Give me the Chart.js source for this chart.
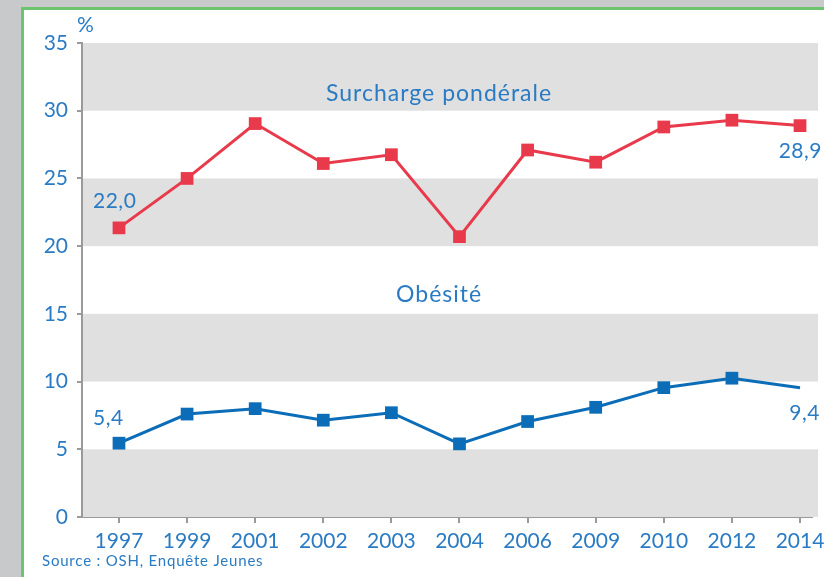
<!DOCTYPE html>
<html>
<head>
<meta charset="utf-8">
<script src="https://cdn.jsdelivr.net/npm/chart.js@4"></script>
<style>
    body { margin: 0; background: #c8c9cb; width: 824px; height: 577px; overflow: hidden; position: relative; }
    #cadre { position: absolute; left: 21px; top: 7px; width: 900px; height: 700px; background: #fff; border: 3px solid #6cc46c; }
    #graphique { position: absolute; left: 0; top: 0; }
</style>
</head>
<body>
<div id="cadre"></div>
<canvas id="graphique" width="824" height="577"></canvas>
<script>
const annees = ['1997', '1999', '2001', '2002', '2003', '2004', '2006', '2009', '2010', '2012', '2014'];
const surcharge = [21.35, 25.0, 29.05, 26.1, 26.75, 20.7, 27.1, 26.2, 28.8, 29.3, 28.9];
const obesite = [5.45, 7.6, 8.0, 7.15, 7.7, 5.4, 7.05, 8.1, 9.55, 10.25, 9.55];
const etiquettesSurcharge = ['22,0', '28,9'];
const etiquettesObesite = ['5,4', '9,4'];
const ticksY = [0, 5, 10, 15, 20, 25, 30, 35];

const bleuTexte = '#2a7bc3';
const police = 'Lato, "DejaVu Sans", sans-serif';

// bandes grises et textes
const decor = {
    id: 'decor',
    beforeDatasetsDraw(chart) {
        const ctx = chart.ctx;
        const y = chart.scales.y;
        const aire = chart.chartArea;
        ctx.save();
        ctx.fillStyle = '#e0e0e0';
        for (let v = 0; v < 35; v += 10) {
            const haut = y.getPixelForValue(v + 5);
            const bas = y.getPixelForValue(v);
            ctx.fillRect(aire.left + 1, haut, aire.right + 5 - aire.left, bas - haut);
        }
        ctx.restore();
    },
    afterDatasetsDraw(chart) {
        const ctx = chart.ctx;
        const x = chart.scales.x;
        const y = chart.scales.y;
        ctx.save();
        ctx.fillStyle = bleuTexte;
        ctx.textBaseline = 'middle';
        ctx.textAlign = 'center';
        ctx.font = '23px ' + police;
        ctx.letterSpacing = '1px';
        ctx.fillText('Surcharge pondérale', x.getPixelForValue(4.7), y.getPixelForValue(31.3));
        ctx.fillText('Obésité', x.getPixelForValue(4.7), y.getPixelForValue(16.4));

        ctx.font = '21px ' + police;
        ctx.letterSpacing = '0.5px';
        ctx.textAlign = 'left';
        ctx.fillText(etiquettesSurcharge[0], 93, y.getPixelForValue(surcharge[0]) - 27);
        ctx.fillText(etiquettesObesite[0], 93, y.getPixelForValue(obesite[0]) - 25);
        ctx.textAlign = 'right';
        ctx.fillText(etiquettesSurcharge[1], 822, y.getPixelForValue(surcharge[10]) + 26);
        ctx.fillText(etiquettesObesite[1], 820, y.getPixelForValue(obesite[10]) + 26);

        ctx.textAlign = 'left';
        ctx.fillText('%', 77, 25);
        ctx.font = '15px ' + police;
        ctx.letterSpacing = '0.8px';
        ctx.fillText('Source : OSH, Enquête Jeunes', 42, 561);
        ctx.restore();
    }
};

const points = (serie) => serie.map((v, i) => ({ x: i, y: v }));

new Chart(document.getElementById('graphique'), {
    type: 'line',
    data: {
        datasets: [{
            label: 'Surcharge pondérale',
            data: points(surcharge),
            borderColor: '#e83a4b',
            backgroundColor: '#e83a4b',
            borderWidth: 3,
            pointStyle: 'rect',
            pointRadius: 9,
            pointBorderWidth: 0
        }, {
            label: 'Obésité',
            data: points(obesite),
            borderColor: '#0b6db7',
            backgroundColor: '#0b6db7',
            borderWidth: 3,
            pointStyle: 'rect',
            pointRadius: obesite.map((v, i) => i === obesite.length - 1 ? 0 : 9),
            pointBorderWidth: 0
        }]
    },
    options: {
        responsive: false,
        animation: false,
        layout: { padding: { left: 0, right: 12, top: 43, bottom: 0 } },
        plugins: { legend: { display: false }, tooltip: { enabled: false } },
        scales: {
            x: {
                type: 'linear',
                min: -0.543,
                max: 10.176,
                afterBuildTicks: (axis) => { axis.ticks = annees.map((a, i) => ({ value: i })); },
                afterFit: (axis) => {
                    axis.height = 60;
                    axis.paddingLeft = 0;
                    axis.paddingRight = 0;
                },
                ticks: {
                    autoSkip: false,
                    maxRotation: 0,
                    padding: 6,
                    color: bleuTexte,
                    font: { family: police, size: 21 },
                    callback: (v) => annees[v]
                },
                grid: { drawOnChartArea: false, drawTicks: true, tickLength: 6, color: '#9a9a9a', lineWidth: 2 },
                border: { display: true, color: '#9a9a9a', width: 2 }
            },
            y: {
                min: 0,
                max: 35,
                afterBuildTicks: (axis) => { axis.ticks = ticksY.map((v) => ({ value: v })); },
                afterFit: (axis) => {
                    axis.width = 82;
                    axis.paddingTop = 0;
                    axis.paddingBottom = 0;
                },
                ticks: {
                    padding: 9,
                    color: bleuTexte,
                    font: { family: police, size: 21 }
                },
                grid: { drawOnChartArea: false, drawTicks: true, tickLength: 5, color: '#9a9a9a', lineWidth: 2 },
                border: { display: true, color: '#9a9a9a', width: 2 }
            }
        }
    },
    plugins: [decor]
});
</script>
</body>
</html>
